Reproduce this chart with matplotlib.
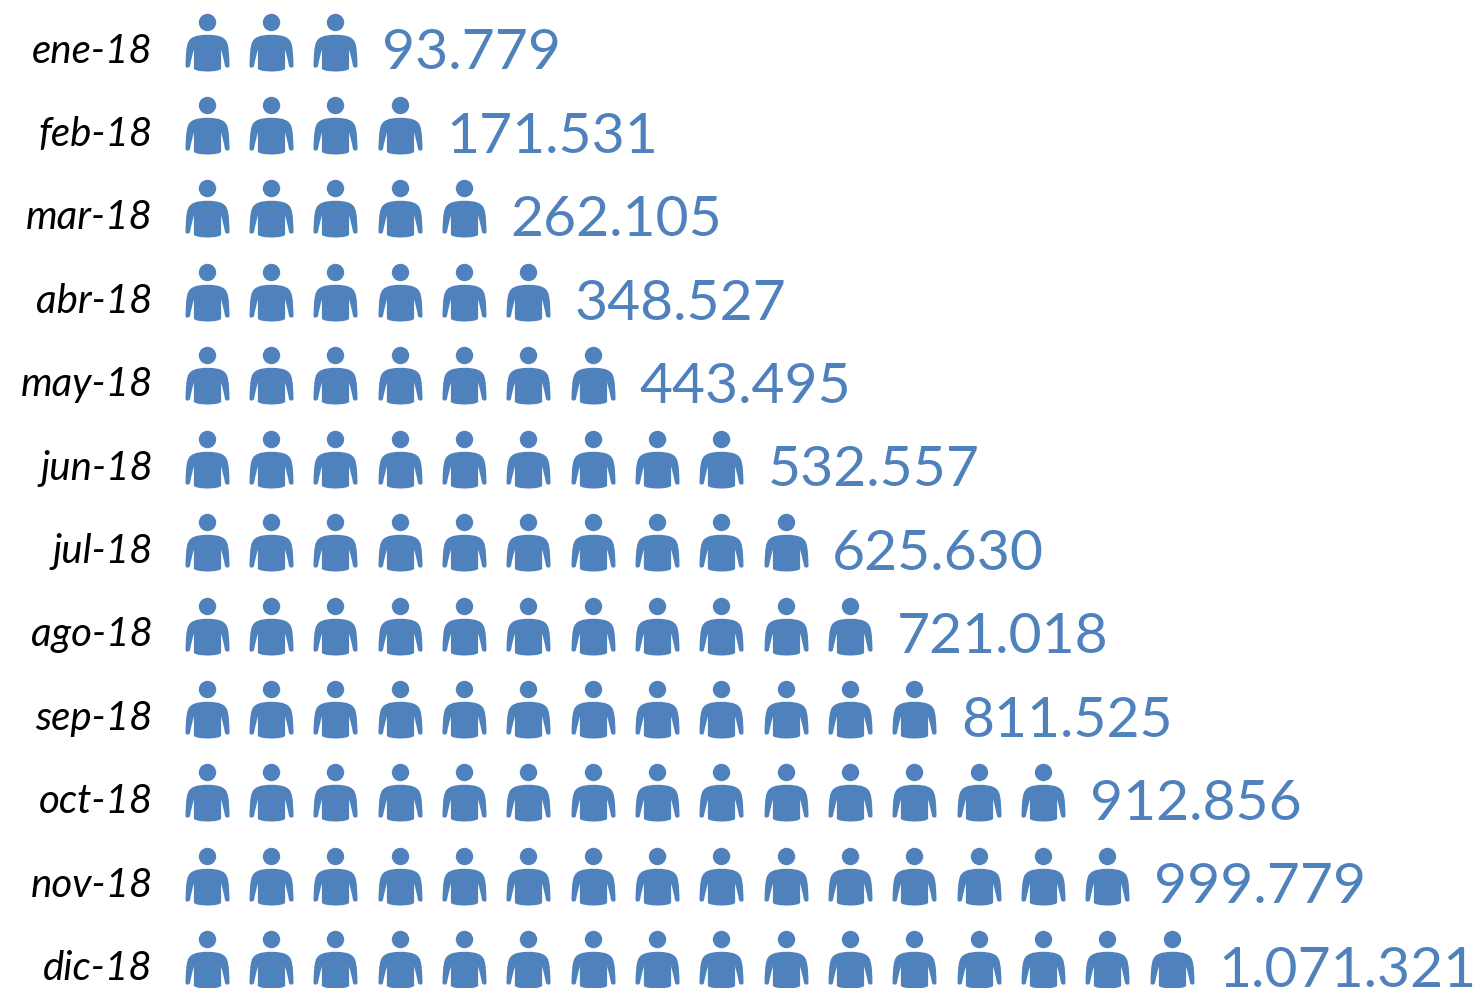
import matplotlib
matplotlib.use('Agg')
import matplotlib.pyplot as plt
from matplotlib.path import Path

months = ['ene-18', 'feb-18', 'mar-18', 'abr-18', 'may-18', 'jun-18',
          'jul-18', 'ago-18', 'sep-18', 'oct-18', 'nov-18', 'dic-18']
values = [93779, 171531, 262105, 348527, 443495, 532557,
          625630, 721018, 811525, 912856, 999779, 1071321]
icons = [3, 4, 5, 6, 7, 9, 10, 11, 12, 14, 15, 16]

BLUE = '#4f81bd'
plt.rcParams['font.family'] = ['Lato', 'DejaVu Sans']


def person_marker():
    # left half of the outline in pixels around the icon centre, y up
    left = [(0, -29), (-6, -29), (-13.6, -28), (-13.6, -26),
            (-13.6, -20), (-13.6, -13), (-13.6, -7),
            (-15, -12), (-16.5, -18), (-17.5, -23.5),
            (-18.5, -26), (-22.3, -25.5), (-22, -23),
            (-21.7, -15), (-21.8, -6), (-19.5, 0),
            (-17.5, 5), (-12, 7.7), (0, 7.7)]
    right = [(-x, y) for x, y in reversed(left)][1:]
    verts = left + right + [left[0]]
    codes = [Path.MOVETO] + [Path.CURVE4] * (len(verts) - 2) + [Path.CLOSEPOLY]
    head = Path.circle((0, 20), 8.7)
    return Path.make_compound_path(head, Path(verts, codes))


def fmt(v):
    return f'{v:,}'.replace(',', '.')


fig = plt.figure(figsize=(14.79, 9.88), dpi=100)
ax = fig.add_axes([0, 0, 1, 1])
ax.set_xlim(-206.6 / 64.33, (1479 - 206.6) / 64.33)
ax.set_ylim((988 - 41.7) / 83.4, -41.7 / 83.4)
ax.axis('off')

marker = person_marker()
for row, (month, value, n) in enumerate(zip(months, values, icons)):
    ax.scatter(range(n), [row] * n, marker=marker, s=(2 * 29 * 0.72) ** 2,
               color=BLUE, linewidths=0, clip_on=False)
    ax.annotate(month, (0, row), xytext=(-38.6, -15), textcoords='offset points',
                ha='right', va='baseline', fontsize=29, style='italic', color='black')
    ax.annotate(fmt(value), (n - 1, row), xytext=(33.6, -20), textcoords='offset points',
                ha='left', va='baseline', fontsize=41, color=BLUE, annotation_clip=False)

fig.savefig('out.png', dpi=100)
